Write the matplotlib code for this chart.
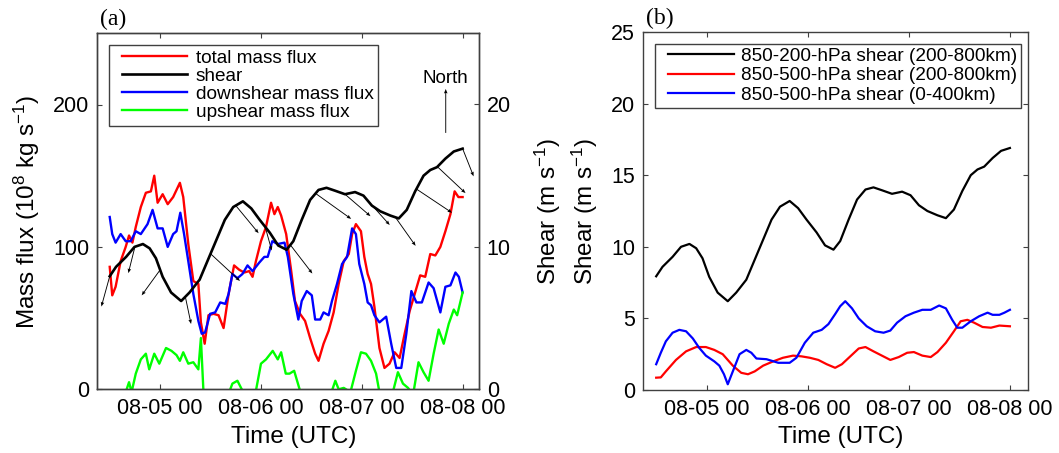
import numpy as np
import matplotlib.pyplot as plt
from matplotlib.lines import Line2D
from matplotlib.legend_handler import HandlerLine2D

plt.rcParams['font.family'] = ['Liberation Sans', 'DejaVu Sans']
plt.rcParams['mathtext.fontset'] = 'custom'
plt.rcParams['mathtext.rm'] = 'Liberation Sans'
plt.rcParams['mathtext.it'] = 'Liberation Sans:italic'
plt.rcParams['mathtext.bf'] = 'Liberation Sans:bold'

# time axis in hours from 08-05 00 UTC
tick_hours = [0, 24, 48, 72]
tick_labels = ['08-05 00', '08-06 00', '08-07 00', '08-08 00']

# panel (a): mass flux (10^8 kg/s)
total_hours = [-12, -11.4, -10.6, -9.4, -8.2, -7.4, -6.6, -5.8, -4.6, -3.4, -2.2, -1.4, -0.6, 0.6, 1.8,
               3.1, 4.7, 5.5, 6.7, 7.9, 9.1, 9.7, 10.6, 11.5, 12.7, 13.9, 15.1, 16.3, 17.6, 18.8, 20.0,
               21.2, 22.0, 22.8, 24.0, 25.2, 26.4, 27.2, 28.0, 28.8, 30.0, 31.2, 32.1, 33.3, 34.5, 35.7,
               36.9, 37.7, 38.9, 40.1, 41.3, 42.5, 43.7, 44.9, 45.7, 46.6, 47.8, 48.6, 49.4, 50.2, 51.0,
               52.2, 53.4, 54.6, 55.8, 57.0, 58.2, 59.4, 60.6, 61.9, 63.1, 64.3, 65.5, 66.7, 67.9, 69.1,
               70.1, 71.0, 72]
total_flux = [86, 66, 72, 90, 100, 108, 103, 114, 128, 138, 139, 150, 131, 137, 130,
              135, 145, 135, 102, 76, 74, 47, 32, 52, 53, 52, 43, 67, 87, 84, 82,
              83, 79, 90, 104, 114, 131, 123, 128, 122, 109, 83, 62, 53, 48, 36,
              25, 20, 32, 41, 54, 74, 90, 95, 109, 116, 111, 93, 81, 74, 58,
              29, 15, 18, 26, 22, 39, 55, 67, 80, 79, 95, 94, 100, 111, 123,
              139, 135, 135]

down_hours = [-12, -11.4, -10.6, -9.4, -8.2, -7.0, -5.8, -4.6, -3.0, -1.8,
              -0.6, 0.6, 1.8, 3.1, 3.9, 4.8, 5.7, 6.7, 7.9, 9.1,
              9.9, 10.7, 11.9, 13.1, 14.3, 15.5, 16.3, 17.2, 18.4, 19.6,
              20.8, 22.0, 23.6, 24.8, 25.6, 26.7, 28.0, 29.6, 30.4, 31.7,
              32.9, 33.7, 34.9, 36.1, 36.9, 38.1, 38.9, 40.1, 40.9, 42.1,
              43.3, 44.5, 45.7, 46.6, 47.4, 48.6, 49.4, 50.2, 51.0, 52.2,
              53.8, 55.0, 56.2, 57.4, 58.6, 59.8, 61.0, 62.3, 63.9, 65.1,
              66.7, 67.9, 69.1, 70.3, 71.1, 72]
down_flux = [121, 109, 103, 109, 104, 104, 111, 109, 116, 126,
             113, 113, 100, 109, 111, 124, 109, 90, 67, 48,
             39, 40, 53, 54, 61, 60, 67, 81, 78, 81,
             87, 83, 89, 93, 93, 104, 102, 103, 93, 67,
             49, 62, 69, 66, 49, 49, 54, 52, 62, 74,
             88, 93, 113, 109, 88, 74, 61, 59, 52, 47,
             51, 32, 15, 15, 39, 69, 61, 61, 75, 71,
             54, 72, 73, 82, 79, 68]

up_hours = [-12, -9.4, -8.2, -7.4, -6.8, -5.8, -4.6, -3.4, -2.6, -1.4,
            -0.2, 1.4, 2.7, 3.9, 4.7, 5.5, 6.7, 7.9, 9.1, 9.7,
            10.3, 10.9, 13.9, 17.2, 18.4, 19.6, 21.2, 22.8, 24.0, 25.2,
            26.8, 28.0, 28.8, 29.9, 30.8, 31.9, 33.3, 34.5, 37.7, 40.9,
            41.7, 42.5, 43.7, 45.3, 46.6, 47.8, 49.0, 50.2, 51.4, 52.2,
            53.4, 55.4, 56.6, 57.8, 59.0, 60.2, 61.5, 62.7, 63.9, 65.1,
            66.3, 67.5, 68.7, 69.9, 70.7, 72]
up_flux = [-25, -10, -2, 5, -2, 11, 21, 25, 14, 25,
           18, 29, 27, 24, 20, 26, 18, 19, 14, 36,
           -1, -15, -22, 4, 6, -1, -8, -1, 18, 21,
           27, 21, 26, 11, 11, 13, -1, -13, -25, -1,
           6, 0, 1, -2, 13, 26, 25, 20, 11, -2,
           -17, -2, 12, 4, 1, -4, 19, 12, 6, 25,
           42, 32, 46, 56, 52, 68]

# 850-200-hPa shear (200-800 km), m/s -- used in both panels
shear_hours = [-12, -10.5, -8.1, -6.1, -4.1, -2.5, -1.0, 0.6, 2.6, 5.0, 7.0, 9.4, 11.4, 13.4, 15.4,
               17.4, 19.7, 21.7, 23.7, 26.1, 28.1, 30.1, 31.7, 33.7, 35.7, 37.7, 39.6, 41.6, 44.0,
               46.4, 48.4, 50.4, 52.4, 54.8, 56.8, 58.7, 60.7, 62.7, 64.3, 65.9, 67.9, 69.9, 72]
shear_deep = [7.94, 8.6, 9.3, 10.0, 10.2, 9.9, 9.2, 7.9, 6.8, 6.2, 6.8, 7.7, 9.1, 10.5, 11.9,
              12.8, 13.2, 12.7, 11.9, 11.0, 10.1, 9.8, 10.4, 11.9, 13.3, 14.0, 14.15, 13.95, 13.7,
              13.85, 13.6, 12.9, 12.5, 12.2, 12.0, 12.6, 13.9, 15.0, 15.4, 15.6, 16.2, 16.7, 16.9]

# shear direction arrows (m/s components, east / north)
arrow_hours = [-12, -6, 0, 6, 12, 18, 25, 31, 37, 44, 49, 56, 61, 66, 72]
arrow_u = [-1.9, -1.5, -4.2, 1.3, 6.7, 5.2, 1.5, 5.0, 8.1, 5.8, 5.4, 4.6, 8.1, 6.4, 2.5]
arrow_v = [-6.9, -6.0, -5.8, -6.2, -6.2, -6.3, -5.4, -6.5, -5.8, -5.0, -6.0, -6.5, -5.4, -6.0, -6.3]

# panel (b): 850-500-hPa shear
mid_hours = [-12, -10.9, -9.7, -7.3, -4.9, -2.5, -0.2, 1.8, 3.8, 6.2, 8.2, 9.8, 11.4, 13.4, 15.8,
             18.1, 20.5, 22.5, 24.5, 26.5, 28.5, 30.5, 32.1, 34.1, 36.1, 37.7, 39.6, 41.6, 43.6,
             45.6, 47.6, 49.2, 51.2, 53.2, 54.8, 56.8, 58.7, 60.3, 61.9, 63.5, 65.5, 67.5, 69.5, 72]
shear_mid = [0.86, 0.88, 1.3, 2.1, 2.7, 3.0, 3.0, 2.8, 2.5, 1.7, 1.2, 1.1, 1.3, 1.7, 2.0,
             2.25, 2.4, 2.35, 2.25, 2.1, 1.8, 1.55, 1.8, 2.35, 2.9, 3.0, 2.7, 2.4, 2.1,
             2.3, 2.6, 2.65, 2.4, 2.3, 2.65, 3.3, 4.1, 4.8, 4.9, 4.7, 4.4, 4.35, 4.5, 4.45]

inner_hours = [-12, -10.9, -9.7, -8.1, -6.5, -4.9, -3.3, -1.8, -0.2, 1.8, 3.0, 4.1, 5.0, 6.2, 7.8,
               9.4, 10.6, 11.8, 14.2, 17.0, 19.7, 21.3, 23.3, 25.3, 27.3, 28.9, 30.5, 31.7, 32.9,
               34.5, 36.1, 38.0, 40.0, 42.0, 43.6, 45.2, 47.2, 49.2, 51.2, 53.2, 55.2, 56.8, 58.3,
               59.5, 60.7, 62.7, 64.7, 66.7, 67.9, 69.5, 70.7, 72]
shear_inner = [1.8, 2.6, 3.4, 4.0, 4.2, 4.1, 3.6, 2.95, 2.4, 2.0, 1.7, 1.1, 0.4, 1.3, 2.5,
               2.8, 2.6, 2.2, 2.15, 1.9, 1.9, 2.25, 3.3, 4.0, 4.2, 4.6, 5.3, 5.85, 6.2,
               5.7, 5.0, 4.45, 4.1, 4.0, 4.15, 4.7, 5.15, 5.4, 5.6, 5.6, 5.9, 5.7, 4.9,
               4.35, 4.35, 4.8, 5.15, 5.4, 5.25, 5.25, 5.4, 5.6]

spine_col = '#404040'
W, H = 1059, 453


def style_axes(ax):
    for s in ax.spines.values():
        s.set_color(spine_col)
        s.set_linewidth(1.0)
    ax.tick_params(direction='in', length=3.5, width=0.8, color=spine_col, labelsize=15.5)
    ax.tick_params(axis='x', pad=6.5)
    ax.tick_params(axis='y', pad=5.5)


fig = plt.figure(figsize=(W / 100, H / 100), dpi=100)

# ---------------- panel (a) ----------------
ax = fig.add_axes([96.7 / W, (H - 389.3) / H, 382.3 / W, 356 / H])
ax2 = ax.twinx()
style_axes(ax)
style_axes(ax2)

l_tot, = ax.plot(total_hours, total_flux, color='#ff0000', lw=1.7)
l_dn, = ax.plot(down_hours, down_flux, color='#0000ff', lw=1.7)
l_up, = ax.plot(up_hours, up_flux, color='#00ff00', lw=1.7)
l_sh, = ax2.plot(shear_hours, shear_deep, color='black', lw=1.9)

arrow_y = np.interp(arrow_hours, shear_hours, shear_deep)
q = ax2.quiver(arrow_hours, arrow_y, arrow_u, arrow_v, angles='uv', scale_units='inches',
               scale=22.75, units='inches', width=0.009, headwidth=4, headlength=5,
               headaxislength=4.5, color='black', zorder=3)
ax2.quiverkey(q, 0.913, 0.782, 10, 'North', angle=90, labelpos='N', coordinates='axes',
              labelsep=0.24, fontproperties={'size': 13.5})

ax.set_xlim(-15.1, 75.9)
ax.set_ylim(0, 250)
ax2.set_ylim(0, 25)
ax.set_xticks(tick_hours)
ax.set_xticklabels(tick_labels)
ax.set_yticks([0, 100, 200])
ax2.set_yticks([0, 10, 20])
ax.tick_params(top=True, right=False)
ax2.tick_params(right=True, left=False)

ax.set_xlabel('Time (UTC)', fontsize=17.5)
ax.xaxis.set_label_coords(0.514, -0.103)
ax.set_ylabel(r'Mass flux (10$^{8}$ kg s$^{-1}$)', fontsize=17.5)
ax.yaxis.set_label_coords(-0.144, 0.5)
ax2.set_ylabel(r'Shear (m s$^{-1}$)', fontsize=17.5)
ax2.yaxis.set_label_coords(1.142, 0.5)

leg = ax2.legend([l_tot, l_sh, l_dn, l_up],
                 ['total mass flux', 'shear', 'downshear mass flux', 'upshear mass flux'],
                 loc='upper left', bbox_to_anchor=((109 - 96.7) / 382.3, (389.3 - 45) / 356),
                 borderaxespad=0, fontsize=13.7, fancybox=False, framealpha=1,
                 edgecolor=spine_col, borderpad=0.24, labelspacing=0.04,
                 handlelength=3.87, handletextpad=0.44,
                 handler_map={Line2D: HandlerLine2D(xpad=0.43)})
leg.get_frame().set_linewidth(1.0)

fig.text(100 / W, 1 - 30.4 / H, '(a)', fontsize=17, va='bottom', ha='left',
         family=['Liberation Serif', 'DejaVu Serif'])

# ---------------- panel (b) ----------------
bx = fig.add_axes([642.7 / W, (H - 390) / H, 384.9 / W, 358 / H])
style_axes(bx)
b1, = bx.plot(shear_hours, shear_deep, color='black', lw=1.6)
b2, = bx.plot(mid_hours, shear_mid, color='#ff0000', lw=1.6)
b3, = bx.plot(inner_hours, shear_inner, color='#0000ff', lw=1.6)
bx.set_xlim(-15.2, 76.2)
bx.set_ylim(0, 25)
bx.set_xticks(tick_hours)
bx.set_xticklabels(tick_labels)
bx.set_yticks([0, 5, 10, 15, 20, 25])
bx.tick_params(top=True, right=True)
bx.set_xlabel('Time (UTC)', fontsize=17.5)
bx.xaxis.set_label_coords(0.514, -0.1006)
bx.set_ylabel(r'Shear (m s$^{-1}$)', fontsize=17.5)
bx.yaxis.set_label_coords(-0.111, 0.5)

legb = bx.legend([b1, b2, b3],
                 ['850-200-hPa shear (200-800km)', '850-500-hPa shear (200-800km)',
                  '850-500-hPa shear (0-400km)'],
                 loc='upper left', bbox_to_anchor=((654.8 - 642.7) / 384.9, (390 - 43.9) / 358),
                 borderaxespad=0, fontsize=13.7, fancybox=False, framealpha=1,
                 edgecolor=spine_col, borderpad=0.2, labelspacing=0.11,
                 handlelength=3.95, handletextpad=0.39,
                 handler_map={Line2D: HandlerLine2D(xpad=0.5)})
legb.get_frame().set_linewidth(1.0)

fig.text(646 / W, 1 - 28.7 / H, '(b)', fontsize=17, va='bottom', ha='left',
         family=['Liberation Serif', 'DejaVu Serif'])

fig.savefig('out.png', dpi=100)
